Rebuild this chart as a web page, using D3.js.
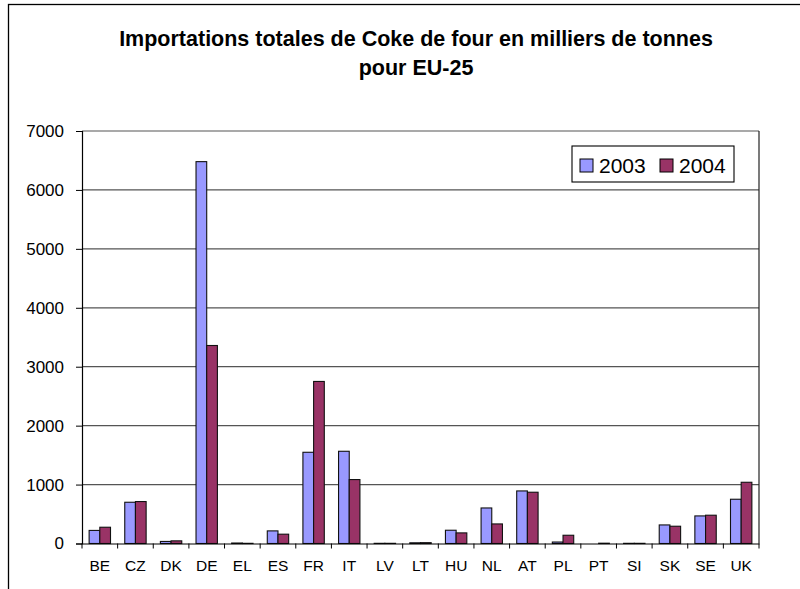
<!DOCTYPE html>
<html>
<head>
<meta charset="utf-8">
<script src="https://cdn.jsdelivr.net/npm/d3@7"></script>
<style>
  body { margin: 0; background: #fff; }
  text { font-family: Arial, "Liberation Sans", sans-serif; fill: #000; }
</style>
</head>
<body>
<script>
// Data
var countries = ["BE", "CZ", "DK", "DE", "EL", "ES", "FR", "IT", "LV", "LT",
                 "HU", "NL", "AT", "PL", "PT", "SI", "SK", "SE", "UK"];
var years = ["2003", "2004"];
var values2003 = [222, 700, 35, 6480, 8, 214, 1548, 1565, 3, 12,
                  225, 603, 892, 25, 0, 3, 315, 468, 751];
var values2004 = [276, 712, 45, 3360, 3, 158, 2750, 1085, 3, 14,
                  180, 332, 870, 140, 5, 3, 293, 480, 1039];
var yTicks = [0, 1000, 2000, 3000, 4000, 5000, 6000, 7000];
var colors = ["#9999FF", "#993366"];

// Width and height
var w = 800;
var h = 589;
var plotLeft = 82, plotRight = 759, plotTop = 131, plotBottom = 543.5;

var svg = d3.select("body")
    .append("svg")
    .attr("width", w)
    .attr("height", h);

// Chart area frame
svg.append("rect")
    .attr("x", 8.5)
    .attr("y", 4.5)
    .attr("width", 900)
    .attr("height", 700)
    .attr("fill", "none")
    .attr("stroke", "#000")
    .attr("stroke-width", 1.3);

// Title
svg.append("text")
    .attr("x", 416)
    .attr("y", 45.5)
    .attr("text-anchor", "middle")
    .style("font-size", "21.5px")
    .style("font-weight", "bold")
    .text("Importations totales de Coke de four en milliers de tonnes");

svg.append("text")
    .attr("x", 416)
    .attr("y", 74.5)
    .attr("text-anchor", "middle")
    .style("font-size", "21.5px")
    .style("font-weight", "bold")
    .text("pour EU-25");

// Scales
var xScale = d3.scaleBand()
    .domain(countries)
    .range([plotLeft, plotRight])
    .paddingInner(0.4)
    .paddingOuter(0.2);

var xSub = d3.scaleBand()
    .domain(years)
    .range([0, xScale.bandwidth()]);

var yScale = d3.scaleLinear()
    .domain([0, 7000])
    .range([plotBottom, plotTop]);

// Gridlines
svg.append("g")
    .selectAll("line")
    .data(yTicks.slice(1))
    .enter().append("line")
    .attr("x1", plotLeft)
    .attr("x2", plotRight)
    .attr("y1", function(d) { return yScale(d); })
    .attr("y2", function(d) { return yScale(d); })
    .attr("stroke", "#555")
    .attr("stroke-width", 1.2);

// Plot area right border
svg.append("line")
    .attr("x1", plotRight).attr("x2", plotRight)
    .attr("y1", plotTop).attr("y2", plotBottom)
    .attr("stroke", "#222")
    .attr("stroke-width", 1.2);

// Bars
var rows = countries.map(function(c, i) {
    return {country: c, vals: [values2003[i], values2004[i]]};
});

var group = svg.selectAll(".group")
    .data(rows)
    .enter().append("g")
    .attr("class", "group")
    .attr("transform", function(d) { return "translate(" + xScale(d.country) + ",0)"; });

group.selectAll("rect")
    .data(function(d) { return d.vals.map(function(v, j) { return {year: years[j], value: v, j: j}; }); })
    .enter().append("rect")
    .attr("x", function(d) { return xSub(d.year); })
    .attr("y", function(d) { return yScale(d.value); })
    .attr("width", xSub.bandwidth())
    .attr("height", function(d) { return plotBottom - yScale(d.value); })
    .attr("fill", function(d) { return colors[d.j]; })
    .attr("stroke", "#111")
    .attr("stroke-width", 1.1);

// Y axis
var yAxis = d3.axisLeft()
    .scale(yScale)
    .tickValues(yTicks)
    .tickFormat(d3.format("d"))
    .tickSize(6)
    .tickPadding(12);

svg.append("g")
    .attr("class", "axis")
    .attr("transform", "translate(" + plotLeft + ",0)")
    .call(yAxis)
    .call(function(g) {
        g.select(".domain").attr("stroke", "#000").attr("stroke-width", 1.2);
        g.selectAll(".tick line").attr("stroke", "#000");
        g.selectAll("text").style("font-size", "17px").attr("font-family", null);
    });

// X axis: labels at band centres, ticks at category boundaries
var xAxis = d3.axisBottom()
    .scale(xScale)
    .tickSize(0)
    .tickPadding(16);

svg.append("g")
    .attr("class", "axis")
    .attr("transform", "translate(0," + plotBottom + ")")
    .call(xAxis)
    .call(function(g) {
        g.select(".domain").attr("stroke", "#000").attr("stroke-width", 1.2);
        g.selectAll("text").style("font-size", "15.5px").attr("font-family", null);
    });

svg.append("g")
    .selectAll("line")
    .data(d3.range(countries.length + 1))
    .enter().append("line")
    .attr("x1", function(i) { return plotLeft + i * xScale.step(); })
    .attr("x2", function(i) { return plotLeft + i * xScale.step(); })
    .attr("y1", plotBottom)
    .attr("y2", plotBottom + 5)
    .attr("stroke", "#000");

// Legend
var legend = svg.append("g")
    .attr("transform", "translate(572,146)");

legend.append("rect")
    .attr("width", 162)
    .attr("height", 36)
    .attr("fill", "#fff")
    .attr("stroke", "#000")
    .attr("stroke-width", 1.1);

var item = legend.selectAll(".item")
    .data(years)
    .enter().append("g")
    .attr("class", "item")
    .attr("transform", function(d, i) { return "translate(" + (8 + i * 80) + ",0)"; });

item.append("rect")
    .attr("y", 13)
    .attr("width", 13)
    .attr("height", 13)
    .attr("fill", function(d, i) { return colors[i]; })
    .attr("stroke", "#000");

item.append("text")
    .attr("x", 19)
    .attr("y", 27)
    .style("font-size", "21px")
    .text(function(d) { return d; });
</script>
</body>
</html>
